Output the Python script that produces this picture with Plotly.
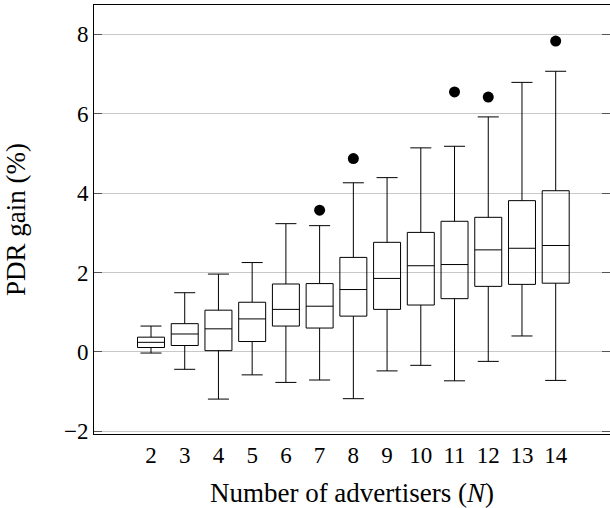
import plotly.graph_objects as go

# Data
advertisers = [2, 3, 4, 5, 6, 7, 8, 9, 10, 11, 12, 13, 14]
lower_whisker = [-0.03, -0.44, -1.19, -0.58, -0.77, -0.71, -1.18, -0.48, -0.34, -0.73, -0.24, 0.40, -0.72]
q1_values = [0.11, 0.16, 0.03, 0.26, 0.65, 0.60, 0.90, 1.07, 1.18, 1.34, 1.65, 1.70, 1.73]
median_values = [0.24, 0.45, 0.58, 0.83, 1.07, 1.15, 1.57, 1.85, 2.17, 2.20, 2.57, 2.61, 2.68]
q3_values = [0.37, 0.71, 1.05, 1.25, 1.71, 1.72, 2.38, 2.76, 3.01, 3.29, 3.39, 3.81, 4.06]
upper_whisker = [0.65, 1.49, 1.96, 2.25, 3.23, 3.18, 4.26, 4.39, 5.14, 5.18, 5.92, 6.79, 7.07]

outlier_x = [7, 8, 11, 12, 14]
outlier_y = [3.57, 4.87, 6.55, 6.42, 7.83]

y_tick_vals = [-2, 0, 2, 4, 6, 8]
y_tick_text = ["\u22122", "0", "2", "4", "6", "8"]

FONT = "Liberation Serif, Times New Roman, Times, serif"

fig = go.Figure()
fig.add_trace(go.Box(
    x=advertisers,
    q1=q1_values,
    median=median_values,
    q3=q3_values,
    lowerfence=lower_whisker,
    upperfence=upper_whisker,
    boxpoints=False,
    width=0.8,
    whiskerwidth=0.78,
    fillcolor="rgba(0,0,0,0)",
    line=dict(color="black", width=1),
    showlegend=False,
    hoverinfo="skip",
))
fig.add_trace(go.Scatter(
    x=outlier_x,
    y=outlier_y,
    mode="markers",
    marker=dict(color="black", size=11, symbol="circle"),
    showlegend=False,
    hoverinfo="skip",
))

fig.update_layout(
    width=610,
    height=508,
    margin=dict(l=94, r=0, t=5, b=74),
    paper_bgcolor="white",
    plot_bgcolor="white",
    font=dict(family=FONT, size=22, color="black"),
    xaxis=dict(
        range=[0.31, 15.61],
        tickmode="array",
        tickvals=advertisers,
        ticktext=[str(a) for a in advertisers],
        ticks="",
        showgrid=False,
        zeroline=False,
        showline=True,
        linecolor="black",
        linewidth=1,
        mirror=True,
        tickfont=dict(family=FONT, size=23),
        title=dict(text="Number of advertisers (<i>N</i>)", font=dict(family=FONT, size=27), standoff=16),
    ),
    yaxis=dict(
        range=[-2.07, 8.74],
        tickmode="array",
        tickvals=y_tick_vals,
        ticktext=y_tick_text,
        ticks="inside",
        ticklen=8,
        tickcolor="#555555",
        tickwidth=1,
        showgrid=True,
        gridcolor="#c8c8c8",
        gridwidth=1,
        zeroline=False,
        showline=True,
        linecolor="black",
        linewidth=1,
        mirror="ticks",
        tickfont=dict(family=FONT, size=23),
        title=dict(text="PDR gain (%)", font=dict(family=FONT, size=27), standoff=30),
    ),
)

fig.write_html(
    "out.html",
    config={"displayModeBar": False},
    post_script="document.body.style.margin='0';document.body.style.padding='0';",
)
